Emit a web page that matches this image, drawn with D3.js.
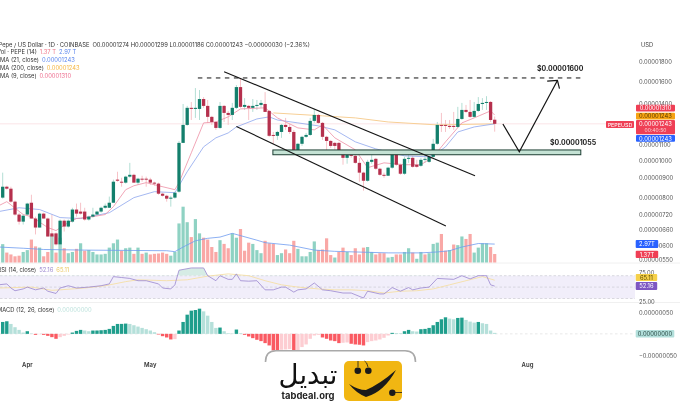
<!DOCTYPE html>
<html><head><meta charset="utf-8">
<script src="https://cdn.jsdelivr.net/npm/d3@7"></script>
<style>html,body{margin:0;padding:0;background:#fff}svg{display:block;filter:blur(0.25px)}text{font-family:Inter,"Noto Sans",sans-serif}</style>
</head><body><svg id="c" width="680" height="408"></svg>
<script>
// Prices are in units of 0.00000001
const opens=[799,853,843,780,722,692,722,775,705,668,
726,705,645,645,604,696,672,692,744,735,
735,701,713,722,735,752,752,775,890,879,
874,906,916,874,895,895,890,874,869,818,
808,794,799,828,1109,1235,1368,1359,1359,1442,
1384,1296,1257,1213,1384,1327,1311,1368,1549,1376,
1384,1368,1384,1392,1400,1343,1163,1157,1184,1235,
1220,1184,1057,1103,1150,1163,1265,1311,1250,1150,
1122,1109,1109,1057,1014,1033,1026,984,928,884,
990,1008,950,916,911,956,1039,973,922,1008,
1014,973,967,1002,990,1020,1103,1235,1235,1228,
1228,1220,1280,1351,1335,1296,1343,1400,1409,1417,1274];
const highs=[928,858,853,785,730,722,775,813,713,730,
730,709,722,649,701,701,701,752,771,775,
752,717,752,739,757,771,804,890,933,900,
911,984,922,900,911,906,900,879,874,823,
813,808,828,1122,1400,1384,1417,1540,1522,1459,
1434,1304,1265,1417,1392,1343,1409,1568,1636,1450,
1392,1442,1434,1434,1503,1351,1184,1192,1242,1288,
1242,1199,1109,1157,1177,1288,1359,1319,1257,1157,
1129,1116,1116,1064,1045,1051,1033,1014,933,1002,
1033,1014,956,928,961,1045,1045,979,1020,1064,
1026,1002,1014,1033,1026,1136,1257,1327,1272,1272,
1335,1376,1409,1392,1434,1417,1459,1450,1467,1425,1299];
const lows=[794,838,775,717,680,680,717,705,641,668,
705,633,587,600,587,652,668,688,713,722,
696,696,709,722,730,748,752,775,879,853,
869,900,874,863,879,853,863,858,813,804,
780,757,794,823,1109,1228,1272,1288,1272,1368,
1250,1235,1199,1206,1257,1235,1272,1359,1368,1351,
1272,1335,1351,1368,1335,1150,1103,1129,1143,1199,
1170,1051,1051,1089,1143,1157,1250,1242,1129,1051,
1076,1064,1051,973,979,1014,979,879,833,879,
979,944,911,900,911,950,967,916,916,984,
956,956,961,984,984,1014,1096,1184,1184,1206,
1199,1213,1272,1327,1288,1288,1335,1351,1351,1257,1186];
const closes=[853,843,780,722,692,717,771,705,668,726,
705,633,633,604,696,672,696,744,726,726,
701,713,722,735,752,761,775,879,884,874,
906,916,874,895,890,890,874,869,818,808,
794,799,823,1109,1235,1368,1359,1368,1442,1384,
1296,1257,1213,1384,1327,1311,1368,1549,1376,1392,
1368,1384,1392,1409,1335,1157,1157,1184,1235,1220,
1184,1057,1103,1150,1163,1265,1311,1250,1150,1122,
1089,1089,1057,1014,1033,1026,984,928,884,990,
1002,950,916,911,956,1039,973,922,1008,1014,
961,961,1002,1008,1020,1103,1235,1228,1228,1220,
1220,1280,1351,1335,1296,1343,1400,1409,1417,1272,1243];
// Volume in trillions
const volumes=[2.96,1.6,1.3,1.0,1.1,1.7,2.0,3.7,2.6,2.4,
1.0,1.7,4.4,1.6,4.0,2.3,1.5,1.7,2.2,3.1,
1.9,2.0,1.7,1.3,1.3,1.4,2.4,3.1,3.7,1.9,
2.3,2.4,1.4,2.4,1.4,1.6,1.3,1.4,1.45,1.6,
1.4,1.1,1.7,6.3,9.0,6.5,4.1,7.0,4.7,4.0,
3.7,2.5,1.7,3.6,3.0,2.3,4.7,4.0,5.4,1.9,
3.2,3.0,2.0,1.5,3.5,3.1,3.0,1.2,1.5,2.1,
1.5,3.5,2.2,1.0,1.0,1.7,3.4,2.0,2.1,3.9,
1.2,0.8,1.7,2.4,1.7,1.2,2.3,1.3,2.4,2.5,
1.7,1.3,1.5,1.5,0.8,0.9,1.3,1.3,1.7,2.3,
1.6,0.6,1.7,1.3,1.5,3.0,3.2,4.6,1.9,2.0,
2.9,2.8,4.2,3.8,4.6,1.6,2.4,3.1,3.1,2.5,1.37];
const volumeSides=("grrrrggrrg"+"rrgrgrggrg"+"rggggggggr"+"ggrgrgrrrr"+"rgggggrggr"+"rrrgrrggrr"+"rgggrrrggr"+"rrgggggrrr"+"rgrrgrrrrg"+"grrrggrrgg"+"rggrgggrrg"+"rggrrggggrr").split("");
const macdHist=[27.6,29.2,23,15.4,9.2,3,6.1,0.8,-2.3,-0.8,
-2.3,-4.6,-7.7,-11.5,-7.7,-4.6,-1.5,3,6.9,9.2,
7.7,6.1,7.7,7.8,8.4,9.2,11.5,18.4,23,23.1,
23.8,23,20,16.9,13.8,10.8,7.7,3.8,-1.5,-5.4,
-8.4,-13,-12.3,7.7,27.6,44.5,53.8,55.3,58.4,52.2,
42.2,27.6,13.8,14.6,6.1,1.5,0.8,10,1.5,-2.3,
-6.1,-10,-13.8,-16.9,-21.5,-26.9,-38.4,-42.2,-36.9,-36.1,
-35.3,-42.2,-38.4,-30.7,-24.6,-11.5,-3.8,-2.3,-8.4,-11.5,
-15.4,-16.9,-21.5,-20.7,-20,-23,-24.6,-25.3,-26.9,-19.2,
-16.9,-15.4,-13,-9.2,-3.8,2.3,1.9,1.5,6.1,9.2,
6.1,5.4,10.8,11.5,13.8,20,27.6,33.8,38.4,35.3,
33.8,36.9,37.6,32.3,28.4,26.1,27.6,24.6,23,7.7,2.3];
const ema9Idx=[-1,1,5,7,11,13,16,18,22,25,27,30,32,35,38,42,43,46,49,52,55,58,64,67,72,76,78,81,86,89,93,98,102,105,108,112,115,119,120];
const ema9Val=[761,780,722,713,668,656,688,705,713,722,757,838,858,874,858,838,874,1045,1250,1257,1296,1359,1368,1288,1213,1199,1235,1143,1064,956,984,973,973,1020,1116,1250,1288,1343,1310];
const ema21Idx=[-1,4,9,14,19,26,32,37,42,45,49,52,55,57,62,65,67,72,77,81,86,91,98,104,106,108,111,115,120];
const ema21Val=[735,752,744,709,705,730,799,828,823,933,1083,1143,1177,1220,1280,1296,1272,1250,1228,1199,1116,1070,1026,1020,1045,1083,1184,1220,1243];
const ema200Idx=[66,78,86,94,106,120];
const ema200Val=[1327,1304,1288,1257,1235,1243];
const volMaIdx=[-1,5,10,20,40,42,44,47,50,53,56,62,64,70,76,81,86,94,102,106,109,112,116,120];
const volMaVal=[2.5,2.3,2.1,2.0,1.9,1.75,2.5,3.5,3.9,4.1,4.7,3.6,3.2,2.8,2.0,1.8,1.7,1.55,1.55,1.7,1.9,2.5,3.06,2.97];
const rsiIdx=[-1,1,2,3,5,6,8,10,11,13,14,16,18,21,24,26,27,29,31,33,35,38,39,41,42,43,46,49,50,52,53,55,56,57,58,60,62,64,66,68,69,71,72,74,76,78,80,83,85,88,89,92,93,95,97,99,100,102,104,106,110,112,114,116,118,119,120];
const rsiVal=[55,57,48,42,46,50,44,48,41,36,48,53,48,50,53,57,73,71,69,64,64,57,48,46,55,87,92,92,75,64,75,67,67,79,64,63,64,44,44,50,50,39,44,46,59,44,42,37,37,26,41,35,35,49,41,49,44,48,50,69,67,75,68,75,75,55,52.16];
const rsiMaIdx=[-1,7,12,14,20,25,30,33,40,45,50,55,60,64,68,72,77,81,85,89,93,97,101,105,109,113,117,120];
const rsiMaVal=[48,50,43,44,48,53,62,66,64,66,74,79,75,64,55,50,46,44,44,42,37,41,42,46,55,64,73,65.11];
const priceTicks=[1800,1600,1400,1200,1100,1000,900,800,720,660,600,550];
const monthLabels=["Apr","May","Aug"];
const monthIdx=[6,36,128];
const dashedIdx=[47.6,141.3];
const dashedPrice=1636;
const zoneIdx=[65.9,141];
const zonePrice=[1063,1033];
const channelUpperIdx=[54,115.2];
const channelUpperPrice=[1698,911];
const channelLowerIdx=[57,108.1];
const channelLowerPrice=[1224,674];
const arrowIdx=[122,126,135.3];
const arrowPrice=[1242,1051,1612];
const headIdx=[132.8,135.3,135.8];
const headPrice=[1605,1612,1534];

const svg=d3.select("#c");
const x=d3.scaleLinear().domain([0,154]).range([2.7,634.1]);
const y=d3.scaleLog().domain([1800,550]).range([62,260]);
const yVol=d3.scaleLinear().domain([0,9]).range([262.5,206.7]);
const yRsi=d3.scaleLinear().domain([25,75]).range([298.5,275.7]);
const yMacd=d3.scaleLinear().domain([-50,50]).range([355.4,312.3]);
const W=635;
const bw=3.3;
const GREEN="#137f6c",RED="#b5304d",GW="#b3ded4",RW="#f7c2c7";
const idx=d3.range(opens.length);
svg.append("defs").append("clipPath").attr("id","ob").append("rect").attr("x",0).attr("y",262).attr("width",W).attr("height",yRsi(75)-262);

// separators
[263,302.5].forEach(v=>svg.append("line").attr("x1",0).attr("x2",680).attr("y1",v).attr("y2",v).attr("stroke","#f0f0f0"));

// volume
svg.append("g").selectAll("rect").data(idx).join("rect")
 .attr("x",i=>x(i)-1.6).attr("width",3.2).attr("y",i=>yVol(volumes[i])).attr("height",i=>yVol(0)-yVol(volumes[i]))
 .attr("fill",i=>volumeSides[i]==="g"?"#8fd2c3":"#f9a8a6");
const ln=(xs,ys,yS)=>d3.line().x(i=>x(xs[i])).y(i=>yS(ys[i]))(d3.range(xs.length));
svg.append("path").attr("d",ln(volMaIdx,volMaVal,yVol)).attr("fill","none").attr("stroke","#6f9cf0").attr("stroke-width",0.8);

// current price line
svg.append("line").attr("x1",0).attr("x2",606).attr("y1",y(1243)).attr("y2",y(1243)).attr("stroke","#f9d3d8").attr("stroke-width",0.6);

// wicks
svg.append("g").selectAll("line").data(idx).join("line")
 .attr("x1",i=>x(i)).attr("x2",i=>x(i)).attr("y1",i=>y(highs[i])).attr("y2",i=>y(lows[i]))
 .attr("stroke",i=>closes[i]>=opens[i]?GW:RW).attr("stroke-width",1);
// EMA
svg.append("path").attr("d",ln(ema200Idx,ema200Val,y)).attr("fill","none").attr("stroke","#f7cf95").attr("stroke-width",1);
svg.append("path").attr("d",ln(ema21Idx,ema21Val,y)).attr("fill","none").attr("stroke","#8ea6ee").attr("stroke-width",0.8);
svg.append("path").attr("d",ln(ema9Idx,ema9Val,y)).attr("fill","none").attr("stroke","#ee8fa4").attr("stroke-width",0.8);
// bodies
svg.append("g").selectAll("rect").data(idx).join("rect")
 .attr("x",i=>x(i)-bw/2).attr("width",bw)
 .attr("y",i=>y(Math.max(opens[i],closes[i])))
 .attr("height",i=>Math.max(1,Math.abs(y(opens[i])-y(closes[i]))))
 .attr("fill",i=>closes[i]>=opens[i]?GREEN:RED);

// RSI
svg.append("rect").attr("x",0).attr("width",W).attr("y",yRsi(75)).attr("height",yRsi(25)-yRsi(75)).attr("fill","#f1eefa");
[75,50,25].forEach(v=>svg.append("line").attr("x1",0).attr("x2",W).attr("y1",yRsi(v)).attr("y2",yRsi(v)).attr("stroke","#c4c4cc").attr("stroke-width",0.6).attr("stroke-dasharray","2.5 2"));
svg.append("path").attr("clip-path","url(#ob)")
 .attr("d",d3.area().x(i=>x(rsiIdx[i])).y0(yRsi(75)).y1(i=>yRsi(rsiVal[i]))(d3.range(rsiIdx.length)))
 .attr("fill","#d6ece5");
svg.append("path").attr("d",ln(rsiMaIdx,rsiMaVal,yRsi)).attr("fill","none").attr("stroke","#f5dfa6").attr("stroke-width",0.9);
svg.append("path").attr("d",ln(rsiIdx,rsiVal,yRsi)).attr("fill","none").attr("stroke","#9a86cf").attr("stroke-width",0.8);

// MACD
svg.append("line").attr("x1",0).attr("x2",W).attr("y1",yMacd(0)).attr("y2",yMacd(0)).attr("stroke","#dcdcdc").attr("stroke-width",0.7).attr("stroke-dasharray","2.5 2.5");
const macdColor=i=>{const v=macdHist[i],p=i?macdHist[i-1]:0;
 return v>=0?(v>=p?"#1f9e8c":"#b5e0da"):(v<=p?"#fa5a62":"#fdcdd2");};
svg.append("g").selectAll("rect").data(idx).join("rect")
 .attr("x",i=>x(i)-1.7).attr("width",3.4)
 .attr("y",i=>Math.min(yMacd(0),yMacd(macdHist[i])))
 .attr("height",i=>Math.abs(yMacd(macdHist[i])-yMacd(0)))
 .attr("fill",macdColor);

// annotations
svg.append("rect").attr("x",x(zoneIdx[0])).attr("width",x(zoneIdx[1])-x(zoneIdx[0]))
 .attr("y",y(zonePrice[0])).attr("height",y(zonePrice[1])-y(zonePrice[0]))
 .attr("fill","#c4e2d4").attr("stroke","#1d3f33").attr("stroke-width",1);
svg.append("line").attr("x1",x(dashedIdx[0])).attr("x2",x(dashedIdx[1])).attr("y1",y(dashedPrice)).attr("y2",y(dashedPrice))
 .attr("stroke","#111").attr("stroke-width",1).attr("stroke-dasharray","4.5 4.5");
const black=(xs,ys,w)=>svg.append("path").attr("d",ln(xs,ys,y)).attr("fill","none").attr("stroke","#151515").attr("stroke-width",w);
black(channelUpperIdx,channelUpperPrice,1.1);
black(channelLowerIdx,channelLowerPrice,1.1);
black(arrowIdx,arrowPrice,1.2);
black(headIdx,headPrice,1.2);
svg.append("text").attr("x",537).attr("y",71).text("$0.00001600").attr("font-size",6.9).attr("font-weight",700).attr("fill","#222");
svg.append("text").attr("x",550).attr("y",145.2).text("$0.00001055").attr("font-size",6.9).attr("font-weight",700).attr("fill","#222");

// price axis
const tickCol="#555";
const FS=5.8;
const fmt=v=>(v*1e-8).toFixed(8);
const gA=svg.append("g").attr("transform",`translate(632,0)`).call(d3.axisRight(y).tickValues(priceTicks).tickFormat(fmt).tickSize(0).tickPadding(7));
gA.select(".domain").remove();
gA.selectAll("text").attr("font-size",FS).attr("fill",tickCol).attr("font-family","Inter,sans-serif");
const lab=(tx,yy,t,c,a)=>svg.append("text").attr("x",tx).attr("y",yy).text(t).attr("font-size",a&&a.fs||FS).attr("fill",c).attr("font-weight",a&&a.fw||400).attr("text-anchor",a&&a.anchor||"start");
lab(641,47.2,"USD","#444");
lab(639,274.8,"75.00",tickCol);
lab(639,303.6,"25.00",tickCol);
const gM=svg.append("g").attr("transform",`translate(632,0)`).call(d3.axisRight(yMacd).tickValues([50,-50]).tickFormat(v=>(v<0?"\u2212":"")+(Math.abs(v)*1e-8).toFixed(8)).tickSize(0).tickPadding(7));
gM.select(".domain").remove();
gM.selectAll("text").attr("font-size",FS).attr("fill",tickCol).attr("font-family","Inter,sans-serif");

// badges
const badge=(bx,by,bw2,bh,fill,t,col,fs)=>{svg.append("rect").attr("x",bx).attr("y",by).attr("width",bw2).attr("height",bh).attr("rx",1).attr("fill",fill);
 lab(bx+bw2/2,by+bh/2+2.1,t,col,{anchor:"middle",fs:fs});};
badge(636,104.7,39,6.8,"#ef3f55","0.00001310","#fff");
badge(636,112.7,39,6.8,"#f6a313","0.00001243","#5a3a00");
svg.append("rect").attr("x",636).attr("y",120).attr("width",39).attr("height",14.3).attr("rx",1).attr("fill","#ef3f55");
lab(655.5,125.6,"0.00001243","#fff",{anchor:"middle"});
lab(655.5,132,"00:40:50","#fbd0d5",{anchor:"middle",fs:5});
badge(636,135,39,6.8,"#2962ff","0.00001243","#fff");
badge(606,121,28,7,"#ef3f55","PEPEUSD","#fff",5.4);
badge(635.7,240,22.5,8,"#2962ff","2.97T","#fff");
badge(635.7,250.7,22.5,7.4,"#ef3f55","1.37T","#fff");
badge(635.7,274,21.5,7,"#f5d04a","65.11","#5a4a00");
badge(635.7,282,21.5,8,"#7e57c2","52.16","#fff");
badge(635.7,330,38.6,7.4,"#b2dfdb",fmt(0),"#2a4a45");

// legend
const leg=(lx,ly,parts)=>{const t=svg.append("text").attr("x",lx).attr("y",ly).attr("font-size",5.8);
 parts.forEach(p=>t.append("tspan").text(p[0]).attr("fill",p[1]).attr("dx",p[2]||0));};
leg(-1.5,47,[["Pepe / US Dollar \u00b7 1D \u00b7 COINBASE","#333"],["O0.00001274 H0.00001299 L0.00001186 C0.00001243 \u22120.00000030 (\u22122.36%)","#333",3]]);
leg(-3,54.4,[["Vol \u00b7 PEPE (14)","#333"],["1.37 T","#f0788a",3],["2.97 T","#5b86ee",3]]);
leg(-3.4,62.4,[["EMA (21, close)","#333"],["0.00001243","#5b86ee",3]]);
leg(-3.4,70.4,[["EMA (200, close)","#333"],["0.00001243","#f5b53f",3]]);
leg(-3.4,78.1,[["EMA (9, close)","#333"],["0.00001310","#ee6f90",3]]);
leg(-2.5,272.4,[["RSI (14, close)","#333"],["52.16","#9a86cf",3],["65.11","#eac860",3]]);
leg(-3,312.4,[["MACD (12, 26, close)","#333"],["0.00000000","#bfe3dd",3]]);

// months
monthLabels.forEach((m,k)=>svg.append("text").attr("x",x(monthIdx[k])).attr("y",366.8).attr("text-anchor","middle").attr("font-size",6).attr("font-weight",600).attr("fill","#333").text(m));

// logo
const lg=svg.append("g");
lg.append("path").attr("d","M265.5 408 V361 Q265.5 350.8 276 350.8 H405 Q415.5 350.8 415.5 361 V408 Z").attr("fill","#fff");
lg.append("path").attr("d","M265.5 362 Q265.5 350.8 276 350.8 H405 Q415.5 350.8 415.5 362").attr("fill","none").attr("stroke","#a9a9a9").attr("stroke-width",1.6);
lg.append("rect").attr("x",344).attr("y",361).attr("width",58).attr("height",40).attr("rx",5).attr("fill","#f1b612");
lg.append("circle").attr("cx",357.8).attr("cy",370.7).attr("r",3.3).attr("fill","#1a1a1a");
lg.append("circle").attr("cx",368.3).attr("cy",370.7).attr("r",3.3).attr("fill","#1a1a1a");
lg.append("circle").attr("cx",392.3).attr("cy",392.7).attr("r",3.2).attr("fill","#1a1a1a");
lg.append("path").attr("d","M358 367 V361 M368 367 Q367 362 364.5 361 M395 392.5 H402").attr("stroke","#1a1a1a").attr("stroke-width",0.8).attr("fill","none");
lg.append("path").attr("d","M349 384 Q358 390 366 390 Q380 384 396 370 Q384 392 366 397 Q356 393 349 384 Z").attr("fill","#1a1a1a");
lg.append("text").attr("x",308).attr("y",384).attr("text-anchor","middle").attr("direction","rtl").attr("font-size",27.5).attr("font-weight",400).attr("fill","#111").style("font-family","'DejaVu Sans'").text("تبدیل");
lg.append("text").attr("x",308).attr("y",399).attr("text-anchor","middle").attr("font-size",9.4).attr("font-weight",700).attr("fill","#222").text("tabdeal.org");
</script></body></html>
